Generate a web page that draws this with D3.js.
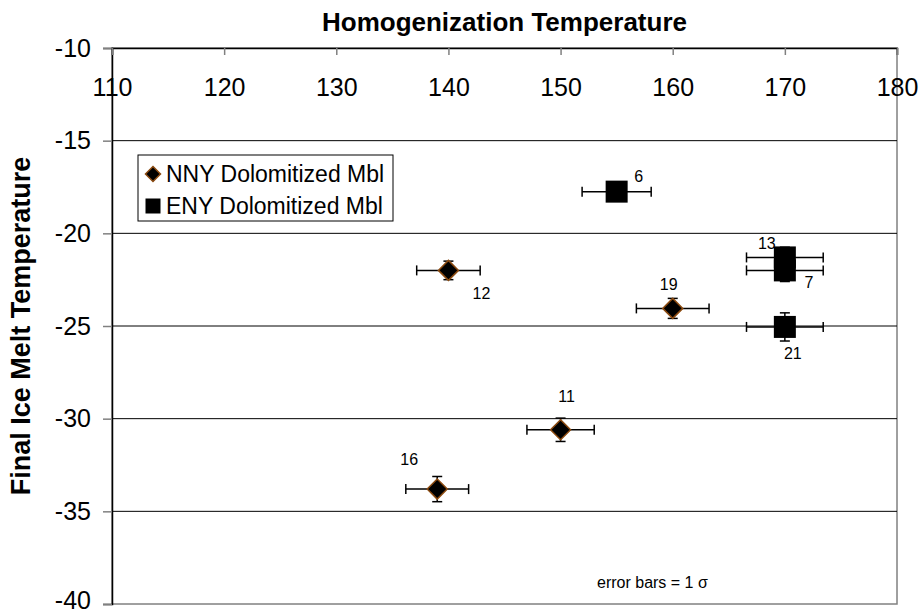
<!DOCTYPE html>
<html>
<head>
<meta charset="utf-8">
<script src="https://cdn.jsdelivr.net/npm/d3@7"></script>
<style>
  html, body { margin: 0; padding: 0; background: #fff; }
  svg { display: block; font-family: "Liberation Sans", Arial, sans-serif; }
</style>
</head>
<body>
<svg id="chart" width="920" height="614"></svg>
<script>
// ---- data ----
const xTicks = [110, 120, 130, 140, 150, 160, 170, 180];
const yTicks = [-10, -15, -20, -25, -30, -35, -40];

const nnyLabels = ["12", "19", "11", "16"];
const nnyX      = [140, 160, 150, 139];
const nnyY      = [-22.0, -24.05, -30.6, -33.8];
const nnyXErr   = [2.83, 3.24, 3.0, 2.8];
const nnyYErr   = [0.5, 0.54, 0.63, 0.68];

const enyLabels = ["6", "13", "7", "21"];
const enyX      = [155, 170, 170, 170];
const enyY      = [-17.75, -21.3, -22.0, -25.05];
const enyXErr   = [3.08, 3.42, 3.42, 3.42];
const enyYErr   = [0.4, 0.55, 0.6, 0.76];

const seriesNames = ["NNY Dolomitized Mbl", "ENY Dolomitized Mbl"];

// ---- layout ----
const L = 112, R = 897, T = 48, B = 604;
const svg = d3.select("#chart");
const x = d3.scaleLinear().domain([110, 180]).range([L, R]);
const y = d3.scaleLinear().domain([-40, -10]).range([B, T]);
const FONT = "'Liberation Sans', Arial, sans-serif";

// label placement (pixel offsets from point)
const labelOffset = {
  "12": [33, 23], "19": [-4, -24], "11": [6, -33], "16": [-28, -30],
  "6": [22, -15], "13": [-18, -14], "7": [24, 12], "21": [8, 27]
};

// plot frame (gray right/bottom)
svg.append("rect").attr("x", L).attr("y", T).attr("width", R - L).attr("height", B - T)
  .attr("fill", "none").attr("stroke", "#808080").attr("stroke-width", 1.5);

// gridlines
svg.append("g").selectAll("line").data(yTicks.filter(v => v > -40 && v < -10)).join("line")
  .attr("x1", L).attr("x2", R).attr("y1", d => y(d)).attr("y2", d => y(d))
  .attr("stroke", "#000").attr("stroke-width", 1);

// y axis (left)
const yAxis = d3.axisLeft(y).tickValues(yTicks).tickSize(9).tickPadding(12).tickFormat(d3.format("d"));
const gy = svg.append("g").attr("transform", `translate(${L},0)`).call(yAxis);
gy.select(".domain").attr("stroke", "#000").attr("stroke-width", 1.5);
gy.selectAll(".tick line").attr("stroke", "#808080").attr("stroke-width", 1.5);
gy.selectAll(".tick text").attr("font-size", 25).attr("fill", "#000")
  .attr("font-family", FONT).attr("x", -21)
  .attr("dy", d => d === -40 ? "0.18em" : "0.32em")
  .text(d => String(d));

// x axis (top, ticks inward, labels below line)
const xAxis = d3.axisBottom(x).tickValues(xTicks).tickSize(7).tickPadding(0).tickFormat(d3.format("d"));
const gx = svg.append("g").attr("transform", `translate(0,${T})`).call(xAxis);
gx.select(".domain").attr("stroke", "#000").attr("stroke-width", 1.5);
gx.selectAll(".tick line").attr("stroke", "#808080").attr("stroke-width", 1.5);
gx.selectAll(".tick text").attr("font-size", 25).attr("fill", "#000")
  .attr("font-family", FONT).attr("y", 48).attr("dy", 0);

// titles
svg.append("text").attr("x", (L + R) / 2).attr("y", 31).attr("text-anchor", "middle")
  .attr("font-size", 26).attr("font-weight", "bold").text("Homogenization Temperature");
svg.append("text").attr("transform", `translate(30,${(T + B) / 2}) rotate(-90)`)
  .attr("text-anchor", "middle").attr("font-size", 27).attr("font-weight", "bold")
  .text("Final Ice Melt Temperature");

// build point data
const nny = nnyX.map((v, i) => ({ x: v, y: nnyY[i], ex: nnyXErr[i], ey: nnyYErr[i], label: nnyLabels[i] }));
const eny = enyX.map((v, i) => ({ x: v, y: enyY[i], ex: enyXErr[i], ey: enyYErr[i], label: enyLabels[i] }));
const all = nny.concat(eny);

// error bars
const eb = svg.append("g").attr("stroke", "#000").attr("stroke-width", 1.5).attr("fill", "none");
all.forEach(d => {
  const cx = x(d.x), cy = y(d.y);
  const x0 = x(d.x - d.ex), x1 = x(d.x + d.ex);
  const y0 = y(d.y - d.ey), y1 = y(d.y + d.ey);
  eb.append("line").attr("x1", x0).attr("x2", x1).attr("y1", cy).attr("y2", cy);
  eb.append("line").attr("x1", x0).attr("x2", x0).attr("y1", cy - 5).attr("y2", cy + 5);
  eb.append("line").attr("x1", x1).attr("x2", x1).attr("y1", cy - 5).attr("y2", cy + 5);
  eb.append("line").attr("x1", cx).attr("x2", cx).attr("y1", y0).attr("y2", y1);
  eb.append("line").attr("x1", cx - 5).attr("x2", cx + 5).attr("y1", y0).attr("y2", y0);
  eb.append("line").attr("x1", cx - 5).attr("x2", cx + 5).attr("y1", y1).attr("y2", y1);
});

// markers
const diamond = r => `M0,${-r}L${r},0L0,${r}L${-r},0Z`;
svg.append("g").selectAll("path").data(nny).join("path")
  .attr("d", diamond(10)).attr("transform", d => `translate(${x(d.x)},${y(d.y)})`)
  .attr("fill", "#000").attr("stroke", "#8B4A10").attr("stroke-width", 1.5);
svg.append("g").selectAll("rect").data(eny).join("rect")
  .attr("x", d => x(d.x) - 11).attr("y", d => y(d.y) - 11).attr("width", 22).attr("height", 22)
  .attr("fill", "#000");

// point labels
svg.append("g").selectAll("text").data(all).join("text")
  .attr("x", d => x(d.x) + labelOffset[d.label][0])
  .attr("y", d => y(d.y) + labelOffset[d.label][1])
  .attr("text-anchor", "middle").attr("dominant-baseline", "central")
  .attr("font-size", 16).attr("fill", "#000").text(d => d.label);

// legend
const lg = svg.append("g");
lg.append("rect").attr("x", 138).attr("y", 155).attr("width", 255).attr("height", 66)
  .attr("fill", "#fff").attr("stroke", "#000").attr("stroke-width", 1);
lg.append("path").attr("d", diamond(7.5)).attr("transform", "translate(153,174)")
  .attr("fill", "#000").attr("stroke", "#8B4A10").attr("stroke-width", 1.5);
lg.append("rect").attr("x", 145.5).attr("y", 198.5).attr("width", 15).attr("height", 15).attr("fill", "#000");
lg.selectAll("text").data(seriesNames).join("text")
  .attr("x", 166).attr("y", (d, i) => 174 + i * 32).attr("dominant-baseline", "central")
  .attr("font-size", 23).attr("fill", "#000").text(d => d);

// note
svg.append("text").attr("x", 597).attr("y", 588).attr("font-size", 16).attr("fill", "#000")
  .text("error bars = 1 σ");
</script>
</body>
</html>
